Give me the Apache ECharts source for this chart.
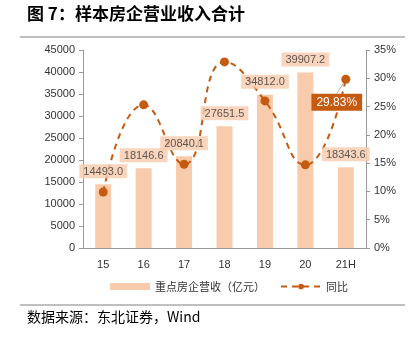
<!DOCTYPE html>
<html>
<head>
<meta charset="utf-8">
<style>
  html, body { margin: 0; padding: 0; background: #fff; }
  #chart { width: 416px; height: 339px; }
</style>
<script src="https://cdn.jsdelivr.net/npm/echarts@6/dist/echarts.min.js"></script>
</head>
<body>
<div id="chart"></div>
<script>
// Sample developers: total operating revenue (100m yuan) and YoY growth (%)
const years = ['15', '16', '17', '18', '19', '20', '21H'];
const revenue = [14493.0, 18146.6, 20840.1, 27651.5, 34812.0, 39907.2, 18343.6];
const yoy = [9.9, 25.3, 14.8, 32.9, 26.0, 14.7, 29.83];
const leftTicks = [0, 45000, 5000];   // min, max, interval
const rightTicks = [0, 35, 5];

const barColor = '#F8CBAD';
const lineColor = '#C55A11';
const textColor = '#333';
const axisColor = '#999';
const numFont = 'Liberation Sans, Arial, sans-serif';
const cjkFont = '"Noto Sans CJK SC", sans-serif';

const chart = echarts.init(document.getElementById('chart'), null, { renderer: 'canvas' });

chart.setOption({
  animation: false,
  backgroundColor: '#fff',
  grid: { left: 83, right: 50, top: 50, bottom: 91 },
  graphic: [
    { type: 'text', left: 27, top: 5,
      style: { text: '图 7：样本房企营业收入合计', font: 'bold 17px ' + cjkFont, fill: '#000' } },
    { type: 'line', shape: { x1: 20, y1: 37, x2: 405, y2: 37 },
      style: { stroke: '#808080', lineWidth: 1 } },
    { type: 'line', shape: { x1: 20, y1: 305, x2: 405, y2: 305 },
      style: { stroke: '#808080', lineWidth: 1 } },
    { type: 'text', left: 27, top: 310,
      style: { text: '数据来源：东北证券，Wind', font: '14px ' + cjkFont, fill: '#000' } }
  ],
  legend: {
    top: 276,
    left: 105,
    itemGap: 15,
    itemWidth: 40,
    itemHeight: 7,
    textStyle: { fontFamily: cjkFont, fontSize: 11, color: textColor },
    data: [
      { name: '重点房企营收（亿元）', icon: 'rect' },
      { name: '同比' }
    ]
  },
  xAxis: {
    type: 'category',
    data: years,
    axisLine: { lineStyle: { color: axisColor } },
    axisTick: { show: false },
    axisLabel: { color: textColor, fontFamily: numFont, fontSize: 11, margin: 11 }
  },
  yAxis: [
    {
      type: 'value',
      min: leftTicks[0], max: leftTicks[1], interval: leftTicks[2],
      axisLine: { show: true, lineStyle: { color: axisColor } },
      axisTick: { show: true, length: 4, lineStyle: { color: axisColor } },
      splitLine: { show: false },
      axisLabel: { color: textColor, fontFamily: numFont, fontSize: 11, margin: 8, formatter: v => String(v) }
    },
    {
      type: 'value',
      min: rightTicks[0], max: rightTicks[1], interval: rightTicks[2],
      position: 'right',
      axisLine: { show: true, lineStyle: { color: axisColor } },
      axisTick: { show: true, length: 4, lineStyle: { color: axisColor } },
      splitLine: { show: false },
      axisLabel: { color: textColor, fontFamily: numFont, fontSize: 11, margin: 8, formatter: '{value}%' }
    }
  ],
  series: [
    {
      name: '重点房企营收（亿元）',
      type: 'bar',
      data: revenue,
      barWidth: 16,
      itemStyle: { color: barColor },
      z: 2
    },
    {
      name: '同比',
      type: 'line',
      yAxisIndex: 1,
      smooth: 0.5,
      symbol: 'circle',
      symbolSize: 9,
      itemStyle: { color: lineColor },
      lineStyle: { color: lineColor, width: 2, type: [6, 5] },
      data: yoy.map((v, i) => i === yoy.length - 1 ? {
        value: v,
        label: {
          show: true,
          position: 'bottom',
          formatter: p => p.value.toFixed(2) + '%',
          color: '#fff',
          fontFamily: numFont,
          fontSize: 12,
          backgroundColor: lineColor,
          padding: [3, 5, 2, 5]
        },
        labelLine: { show: true, lineStyle: { color: '#b0b0b0', width: 1 } }
      } : v),
      labelLayout: { dx: -9, dy: 5 },
      z: 3
    },
    {
      // value tags for the revenue bars, kept above the growth line
      name: 'revenueTags',
      type: 'scatter',
      data: revenue,
      symbolSize: 0,
      silent: true,
      label: {
        show: true,
        position: 'top',
        distance: 6,
        formatter: p => p.value.toFixed(1),
        color: textColor,
        fontFamily: numFont,
        fontSize: 11,
        backgroundColor: barColor,
        padding: [2, 4, 1, 4]
      },
      z: 5
    }
  ]
});
</script>
</body>
</html>
